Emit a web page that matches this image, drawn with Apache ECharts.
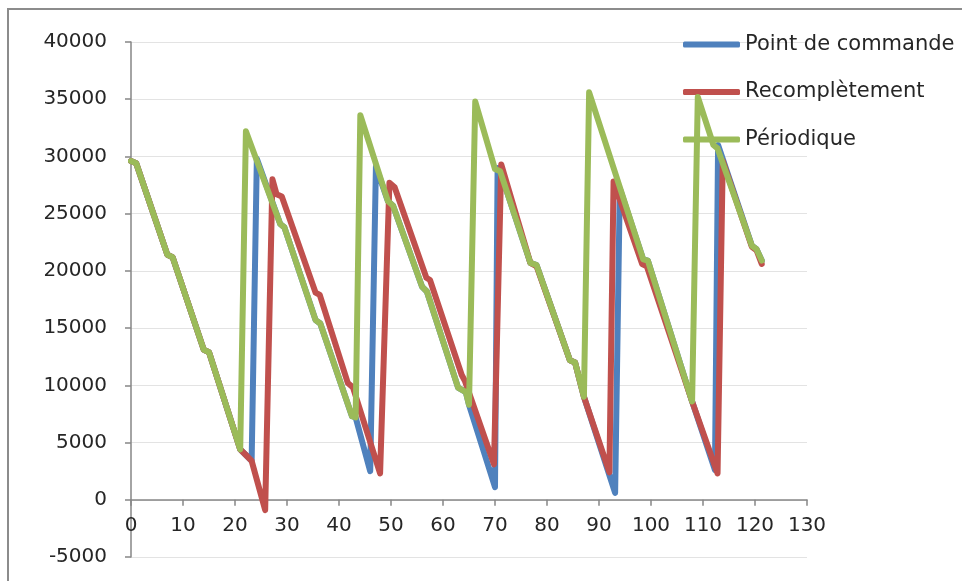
<!DOCTYPE html>
<html><head><meta charset="utf-8">
<script src="https://cdn.jsdelivr.net/npm/echarts@6/dist/echarts.min.js"></script>
<style>html,body{margin:0;padding:0;background:#fff}#c{width:962px;height:581px}</style>
</head><body><div id="c"></div>
<script>
const seriesNames = ['Point de commande', 'Recomplètement', 'Périodique'];
const seriesColors = ['#4F81BD', '#C0504D', '#9BBB59'];
const xRange = [0, 130, 10];
const yRange = [-5000, 40000, 5000];

// Point de commande
const pdcX = [0,1,7,8,14,15,21,21.9,23.2,24.2,28.7,29.5,35.5,36.4,42.5,43.2,46,47.1,49.4,50.4,56,56.9,62.9,64.4,65,70,70.5,71,76.8,78,84.4,85.4,87.1,93.1,94,98.5,99.4,107.9,112.3,112.9,119.4,120.3,121.3];
const pdcY = [29600,29400,21400,21200,13100,12900,4400,4000,3400,29800,24100,23800,15700,15400,7300,7200,2500,29100,26100,25700,18600,18200,9800,9400,8300,1100,29000,28700,20700,20500,12200,12000,9000,600,27200,21000,20900,8600,2600,31000,22200,21900,20900];

// Recomplètement
const recX = [0,1,7,8,14,15,21,21.9,23.2,25.8,27.2,28,29,35.5,36.3,41.7,42.7,47.9,49.7,50.7,56.8,57.5,63.6,64.2,69.8,71.2,76.8,78,84.4,85.4,87.1,92,92.8,98.3,99.2,107.9,112.8,113.8,119.4,120.3,121.3];
const recY = [29600,29400,21400,21200,13100,12900,4400,4000,3400,-900,28000,26700,26500,18100,17900,10200,9800,2300,27700,27300,19400,19200,10900,10400,3100,29300,20700,20400,12200,12000,9000,2400,27800,20600,20400,8600,2300,29600,22100,21800,20600];

// Périodique
const perX = [0,1,7,8,14,15,21,22.1,28.7,29.5,35.5,36.4,42.5,43.2,44.1,49.4,50.4,56,56.9,62.9,64.4,65,66.2,70,71,76.8,78,84.4,85.4,87.1,88.1,98.5,99.4,107.9,109,112,112.8,119.4,120.3,121.3];
const perY = [29600,29400,21400,21200,13100,12900,4400,32200,24100,23800,15700,15400,7300,7200,33600,26100,25700,18600,18200,9800,9400,8300,34800,28900,28700,20700,20500,12200,12000,9000,35600,21000,20900,8600,35200,31000,30700,22200,21900,20900];

function pairs(xs, ys) { return xs.map((x, i) => [x, ys[i]]); }
const allData = [pairs(pdcX, pdcY), pairs(recX, recY), pairs(perX, perY)];

const FONT = 'DejaVu Sans';
const axisGray = '#868686';
const GRID = {left: 131, right: 155, top: 42, bottom: 24};
const chart = echarts.init(document.getElementById('c'), null, {renderer: 'canvas'});
chart.setOption({
  animation: false,
  backgroundColor: '#fff',
  graphic: [{
    type: 'rect', silent: true, z: -10,
    shape: {x: 8, y: 9, width: 1000, height: 1000},
    style: {fill: 'none', stroke: '#8c8c8c', lineWidth: 2}
  }],
  grid: Object.assign({containLabel: false, outerBoundsMode: 'none'}, GRID),
  legend: {
    data: seriesNames, orient: 'vertical', left: 678, top: 29,
    itemWidth: 57, itemHeight: 6, itemGap: 26.5, icon: 'roundRect',
    textStyle: {fontSize: 21, fontFamily: FONT, color: '#262626'}
  },
  xAxis: {
    type: 'value', min: xRange[0], max: xRange[1], interval: xRange[2],
    position: 'bottom', offset: 0,
    axisLine: {onZero: false, lineStyle: {color: axisGray, width: 1.5}},
    axisTick: {show: true, length: 6, lineStyle: {color: axisGray, width: 1.5}},
    axisLabel: {fontSize: 20, fontFamily: FONT, color: '#262626', margin: 16, formatter: v => String(v)},
    splitLine: {show: false}
  },
  yAxis: {
    type: 'value', min: yRange[0], max: yRange[1], interval: yRange[2],
    axisLine: {show: true, onZero: false, lineStyle: {color: axisGray, width: 1.5}},
    axisTick: {show: true, length: 6, lineStyle: {color: axisGray, width: 1.5}},
    axisLabel: {fontSize: 20, fontFamily: FONT, color: '#262626', margin: 24, formatter: v => String(v)},
    splitLine: {show: true, lineStyle: {color: '#E3E3E3', width: 1}}
  },
  series: seriesNames.map((name, i) => ({
    name: name, type: 'line', data: allData[i],
    showSymbol: false, symbol: 'none', clip: false,
    lineStyle: {width: 6, color: seriesColors[i], cap: 'round', join: 'round'},
    itemStyle: {color: seriesColors[i]},
    emphasis: {disabled: true},
    z: 2 + i
  }))
});
// Place the horizontal axis where y = 0 (Excel "axis crosses at 0"), using the library's own scale.
const zeroPx = chart.convertToPixel({yAxisIndex: 0}, 0);
const bottomPx = chart.getHeight() - GRID.bottom;
chart.setOption({xAxis: {offset: zeroPx - bottomPx}});
</script>
</body></html>
